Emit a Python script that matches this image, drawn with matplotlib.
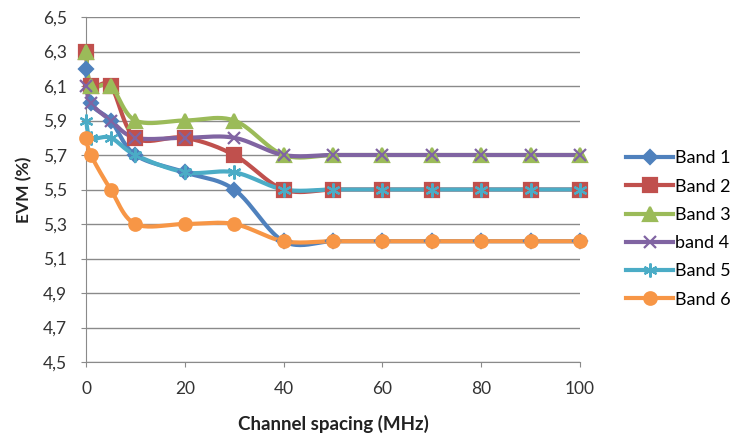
import numpy as np
import matplotlib
matplotlib.use("Agg")
import matplotlib.pyplot as plt
from matplotlib.ticker import FuncFormatter

plt.rcParams['font.family'] = ['Lato', 'DejaVu Sans']

# channel spacing (MHz)
spacing = [0, 1, 5, 10, 20, 30, 40, 50, 60, 70, 80, 90, 100]

band1 = [6.2, 6.0, 5.9, 5.7, 5.6, 5.5, 5.2, 5.2, 5.2, 5.2, 5.2, 5.2, 5.2]
band2 = [6.3, 6.1, 6.1, 5.8, 5.8, 5.7, 5.5, 5.5, 5.5, 5.5, 5.5, 5.5, 5.5]
band3 = [6.3, 6.1, 6.1, 5.9, 5.9, 5.9, 5.7, 5.7, 5.7, 5.7, 5.7, 5.7, 5.7]
band4 = [6.1, 6.0, 5.9, 5.8, 5.8, 5.8, 5.7, 5.7, 5.7, 5.7, 5.7, 5.7, 5.7]
band5 = [5.9, 5.8, 5.8, 5.7, 5.6, 5.6, 5.5, 5.5, 5.5, 5.5, 5.5, 5.5, 5.5]
band6 = [5.8, 5.7, 5.5, 5.3, 5.3, 5.3, 5.2, 5.2, 5.2, 5.2, 5.2, 5.2, 5.2]

labels = ["Band 1", "Band 2", "Band 3", "band 4", "Band 5", "Band 6"]
colors = ["#4F81BD", "#C0504D", "#9BBB59", "#8064A2", "#4BACC6", "#F79646"]
markers = ["D", "s", "^", "x", (6, 2, 0), "o"]
msizes = [7, 9.5, 9.5, 9, 10, 9]


# excel-like smoothed line (bezier through the points)
def smooth(x, y, n=25):
    p = np.column_stack([x, y]).astype(float)
    out = []
    t = np.linspace(0, 1, n)[:, None]
    for i in range(len(p) - 1):
        p0 = p[max(i - 1, 0)]
        p1 = p[i]
        p2 = p[i + 1]
        p3 = p[min(i + 2, len(p) - 1)]
        c1 = p1 + (p2 - p0) / 6
        c2 = p2 - (p3 - p1) / 6
        seg = ((1 - t) ** 3) * p1 + 3 * ((1 - t) ** 2) * t * c1 + 3 * (1 - t) * t ** 2 * c2 + t ** 3 * p2
        out.append(seg)
    out = np.vstack(out)
    return out[:, 0], out[:, 1]


fig = plt.figure(figsize=(7.39, 4.37), dpi=100)
ax = fig.add_axes([86 / 739, 1 - 362 / 437, (580 - 86) / 739, (362 - 17) / 437])

series = [band1, band2, band3, band4, band5, band6]
handles = []
for vals, lab, c, m, ms in zip(series, labels, colors, markers, msizes):
    sx, sy = smooth(spacing, vals)
    ax.plot(sx, sy, color=c, lw=3, zorder=3, clip_on=False)
    ax.plot(spacing, vals, linestyle="none", marker=m, ms=ms, color=c,
            mec=c, mew=1.6, zorder=4, clip_on=False)
    h, = ax.plot([], [], color=c, lw=3, marker=m, ms=ms, mec=c, mew=1.6)
    handles.append(h)

ax.set_xlim(0, 100)
ax.set_ylim(4.5, 6.5)
ax.set_xticks([0, 20, 40, 60, 80, 100])
ax.set_yticks(np.arange(4.5, 6.51, 0.2))
ax.yaxis.set_major_formatter(FuncFormatter(lambda v, p: f"{v:.1f}".replace(".", ",")))
ax.grid(axis="y", color="#8a8a8a", lw=1)
ax.set_axisbelow(True)
for s in ["top", "right"]:
    ax.spines[s].set_visible(False)
for s in ["left", "bottom"]:
    ax.spines[s].set_color("#8a8a8a")
ax.tick_params(axis="both", colors="#8a8a8a", labelcolor="#333333", labelsize=12.5, length=3.5)
ax.tick_params(axis="y", pad=10)
ax.tick_params(axis="x", pad=10)

ax.set_ylabel("EVM (%)", fontsize=12.5, fontweight="bold", color="#222222", labelpad=8)
ax.set_xlabel("Channel spacing (MHz)", fontsize=13.5, fontweight="bold", color="#222222", labelpad=13)

fig.legend(handles, labels, loc="center left", bbox_to_anchor=(610 / 739, 1 - 229 / 437),
           frameon=False, fontsize=13, labelspacing=0.68, handlelength=2.6,
           handletextpad=0.1)

fig.savefig("out.png", dpi=100)
